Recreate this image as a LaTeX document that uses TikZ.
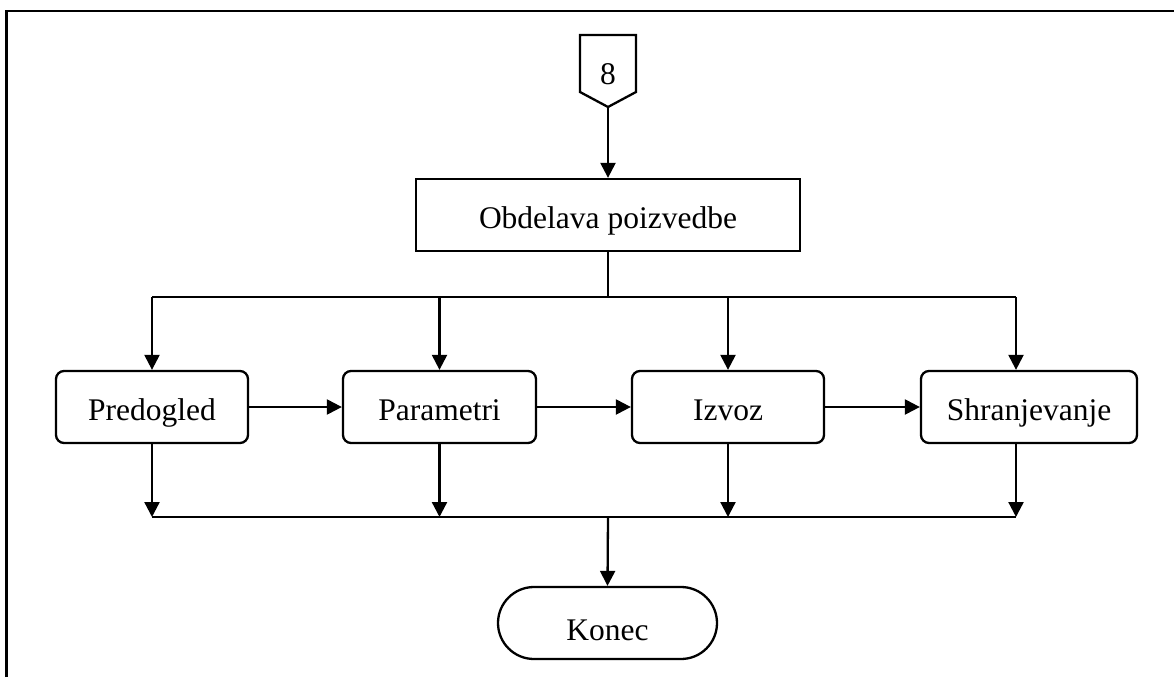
\documentclass[tikz,border=0pt]{standalone}
\usepackage{fontspec}
\setmainfont{Liberation Serif}
\usetikzlibrary{arrows.meta,calc}
\begin{document}
\begin{tikzpicture}[x=1pt,y=-1pt,
  line width=2.3pt,
  every node/.style={font=\fontsize{31.5}{36}\selectfont, inner sep=0pt, text height=26pt, text depth=0pt},
  procbox/.style={draw, rounded corners=8pt, minimum height=72pt},
  plainbox/.style={draw, minimum height=72pt},
  termbox/.style={draw, rounded corners=36pt, minimum height=72pt, text height=34pt},
  arr/.style={-{Triangle[length=15pt,width=15pt]}}
]
\useasboundingbox (0,0) rectangle (1174,677);

% frame
\draw[line width=2.8pt] (6.5,677) -- (6.5,11) -- (1174,11);

% off-page connector
\draw[line join=miter] (580,35) -- (636,35) -- (636,92) -- (608,107) -- (580,92) -- cycle;
\node (c8) at (608,71) {8};
\coordinate (c8tip) at (608,107);

% process nodes
\node[plainbox, minimum width=384pt] (obd) at (608,215) {Obdelava poizvedbe};
\node[procbox, minimum width=192pt] (pre) at (152,407) {Predogled};
\node[procbox, minimum width=193pt] (par) at (439.5,407) {Parametri};
\node[procbox, minimum width=192pt] (izv) at (728,407) {Izvoz};
\node[procbox, minimum width=216pt] (shr) at (1029,407) {Shranjevanje};
\node[termbox, minimum width=219pt] (kon) at (607.5,623) {Konec};

% bus points
\coordinate (busTop) at (608,297);
\coordinate (busBot) at (608,517);
\coordinate (shx) at (1016,407);

% top connections
\draw[arr] (c8tip) -- (obd.north);
\draw (obd.south) -- (busTop);
\draw (pre.north |- busTop) -- (shx |- busTop);
\foreach \n in {pre,par,izv}
  \draw[arr] (\n.north |- busTop) -- (\n.north);
\draw[arr] (shx |- busTop) -- (shx |- shr.north);

% horizontal sequence
\draw[arr] (pre.east) -- (par.west);
\draw[arr] (par.east) -- (izv.west);
\draw[arr] (izv.east) -- (shr.west);

% bottom connections
\foreach \n in {pre,par,izv}
  \draw[arr] (\n.south) -- (\n.south |- busBot);
\draw[arr] (shx |- shr.south) -- (shx |- busBot);
\draw (pre.south |- busBot) -- (shx |- busBot);
\draw[arr] (busBot) -- (kon.north);
\end{tikzpicture}
\end{document}
